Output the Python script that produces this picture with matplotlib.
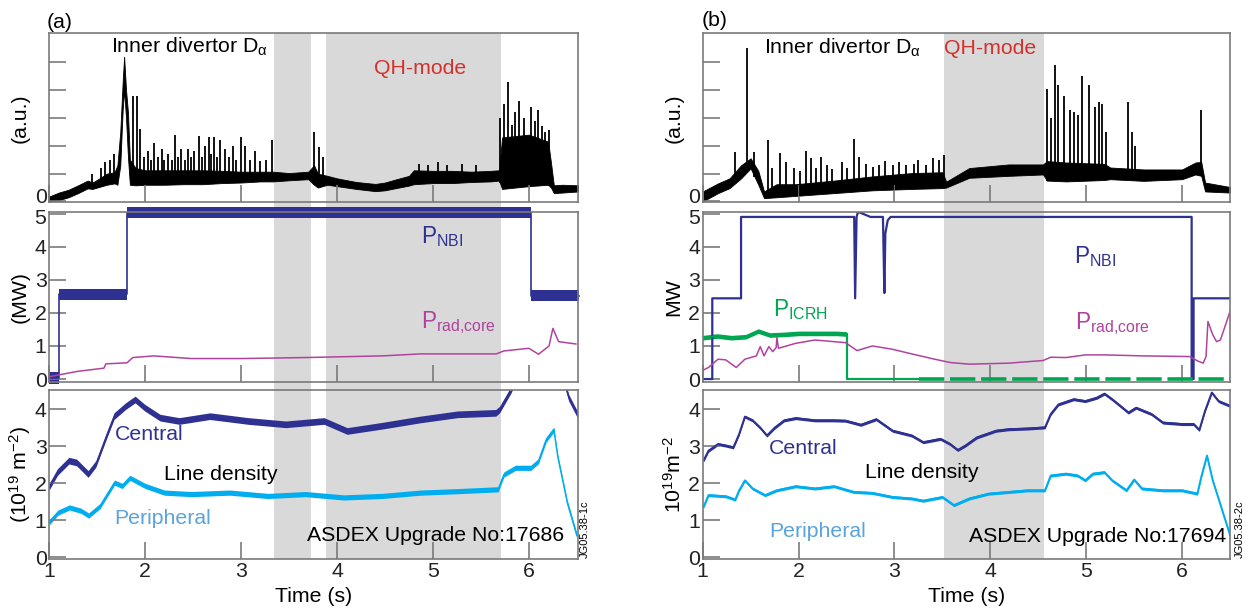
import numpy as np
import matplotlib.pyplot as plt
from matplotlib.patches import Rectangle
from matplotlib.transforms import blended_transform_factory, ScaledTranslation

plt.rcParams['font.family'] = ['Liberation Sans', 'DejaVu Sans']
plt.rcParams['mathtext.fontset'] = 'custom'
plt.rcParams['mathtext.rm'] = 'Liberation Sans'
plt.rcParams['mathtext.it'] = 'Liberation Sans:italic'
plt.rcParams['mathtext.bf'] = 'Liberation Sans:bold'

# ---------------- shot 17686 (a) ----------------
qh_a = [(3.34, 3.73), (3.885, 5.71)]

da_a_t = [1.0, 1.1, 1.2, 1.3, 1.4, 1.45, 1.5, 1.6, 1.68, 1.71, 1.74, 1.765, 1.78, 1.80, 1.82, 1.84,
          1.9, 2.0, 2.2, 2.4, 2.6, 2.8, 3.0, 3.2, 3.33, 3.5, 3.7, 3.76, 3.8, 3.9, 4.0, 4.2, 4.4,
          4.5, 4.6, 4.75, 4.8, 5.0, 5.2, 5.4, 5.6, 5.69, 5.72, 6.0, 6.2, 6.23, 6.26, 6.35, 6.52]
da_a_lo = [0.0, 0.05, 0.15, 0.3, 0.47, 0.45, 0.5, 0.6, 0.65, 0.6, 1.3, 3.3, 4.0, 3.0, 1.6, 0.6,
           0.58, 0.6, 0.6, 0.62, 0.62, 0.66, 0.68, 0.72, 0.72, 0.76, 0.8, 0.6, 0.5, 0.6, 0.55, 0.45, 0.37,
           0.4, 0.47, 0.57, 0.62, 0.66, 0.66, 0.7, 0.72, 0.75, 0.45, 0.55, 0.6, 0.5, 0.3, 0.32, 0.36]
da_a_hi = [0.18, 0.32, 0.42, 0.58, 0.75, 0.68, 0.78, 1.0, 1.05, 1.3, 2.5, 4.3, 5.2, 4.0, 3.2, 1.5,
           1.2, 1.12, 1.12, 1.12, 1.12, 1.1, 1.07, 1.07, 1.07, 1.02, 1.07, 1.3, 1.0, 0.92, 0.83, 0.7, 0.63,
           0.68, 0.78, 0.92, 1.12, 1.1, 1.1, 1.07, 1.1, 1.12, 2.3, 2.4, 2.15, 1.4, 0.58, 0.6, 0.58]
spk_a_t = [1.45, 1.54, 1.58, 1.63, 1.67, 1.87, 1.91, 1.95, 1.99, 2.03, 2.06, 2.09, 2.13, 2.17,
           2.2, 2.24, 2.28, 2.31, 2.34, 2.37, 2.41, 2.45, 2.48, 2.51, 2.56, 2.59, 2.62, 2.66,
           2.69, 2.72, 2.75, 2.78, 2.83, 2.87, 2.91, 2.95, 3.0, 3.04, 3.09, 3.14, 3.2, 3.26, 3.32,
           3.76, 3.81, 3.85, 4.85, 4.95, 5.05, 5.15, 5.3, 5.45,
           5.70, 5.74, 5.78, 5.82, 5.86, 5.90, 5.95, 6.02, 6.06, 6.10, 6.14, 6.17, 6.21]
spk_a_h = [1.0, 1.2, 1.4, 1.5, 1.7, 3.8, 3.8, 2.6, 1.6, 1.8, 1.5, 2.1, 1.6, 1.9,
           1.5, 1.7, 1.5, 2.4, 1.6, 1.9, 1.5, 1.9, 1.6, 1.8, 2.35, 1.6, 2.0, 2.3,
           1.7, 2.3, 1.6, 2.2, 1.9, 1.6, 2.0, 1.5, 2.3, 2.0, 1.5, 1.8, 1.45, 1.5, 2.2,
           2.5, 1.95, 1.6, 1.35, 1.3, 1.4, 1.3, 1.35, 1.3,
           3.0, 3.5, 4.3, 2.75, 3.2, 3.6, 3.0, 3.4, 2.9, 3.3, 2.7, 2.5, 2.57]

nbi_a_t = [1.0, 1.1, 1.1, 1.81, 1.81, 6.02, 6.02, 6.52]
nbi_a = [0.03, 0.03, 2.56, 2.56, 5.03, 5.03, 2.52, 2.52]

prad_a_t = [1.0, 1.09, 1.29, 1.57, 1.59, 1.81, 1.87, 2.09, 2.48, 3.0, 3.67, 4.47, 4.87, 5.66,
            5.74, 6.0, 6.1, 6.21, 6.25, 6.31, 6.49]
prad_a = [0.07, 0.12, 0.23, 0.33, 0.46, 0.49, 0.65, 0.7, 0.62, 0.62, 0.65, 0.7, 0.76, 0.76,
          0.85, 0.93, 0.75, 1.0, 1.53, 1.13, 1.06]

cen_a_t = [1.0, 1.09, 1.21, 1.29, 1.41, 1.49, 1.6, 1.68, 1.8, 1.9, 2.0, 2.16, 2.36, 2.68, 3.08,
           3.47, 3.87, 4.11, 4.47, 4.87, 5.26, 5.66, 5.7, 5.82, 5.86, 6.1, 6.37, 6.42, 6.52]
cen_a = [1.88, 2.29, 2.6, 2.55, 2.24, 2.51, 3.27, 3.8, 4.07, 4.25, 4.03, 3.76, 3.67, 3.8, 3.67,
         3.58, 3.67, 3.4, 3.54, 3.71, 3.85, 3.89, 3.98, 4.52, 4.75, np.nan, 4.75, 4.3, 3.8]

per_a_t = [1.0, 1.09, 1.21, 1.33, 1.41, 1.53, 1.68, 1.76, 1.84, 2.0, 2.2, 2.48, 2.88, 3.28,
           3.67, 4.07, 4.47, 4.87, 5.26, 5.68, 5.74, 5.86, 6.02, 6.1, 6.18, 6.26, 6.3, 6.4, 6.5]
per_a = [0.95, 1.21, 1.35, 1.26, 1.13, 1.39, 2.02, 1.93, 2.15, 1.93, 1.75, 1.71, 1.75, 1.66,
         1.71, 1.62, 1.66, 1.75, 1.79, 1.84, 2.24, 2.42, 2.42, 2.6, 3.18, 3.45, 2.73, 1.48, 0.59]

# ---------------- shot 17694 (b) ----------------
qh_b = [(3.52, 4.555)]

da_b_t = [1.0, 1.16, 1.28, 1.4, 1.5, 1.58, 1.64, 1.77, 1.97, 2.37, 2.77, 3.18, 3.5, 3.54, 3.78,
          4.19, 4.55, 4.59, 4.79, 5.19, 5.25, 5.6, 6.0, 6.14, 6.2, 6.24, 6.5]
da_b_lo = [0.0, 0.3, 0.48, 0.83, 1.19, 0.6, 0.12, 0.15, 0.2, 0.3, 0.4, 0.45, 0.48, 0.5, 0.85,
           0.92, 0.97, 0.75, 0.72, 0.77, 0.8, 0.74, 0.8, 0.97, 0.92, 0.36, 0.32]
da_b_hi = [0.36, 0.65, 0.83, 1.3, 1.55, 1.1, 0.36, 0.62, 0.62, 0.75, 0.9, 1.02, 1.05, 0.71, 1.2,
           1.33, 1.33, 1.45, 1.4, 1.35, 1.22, 1.15, 1.15, 1.4, 1.42, 0.68, 0.52]
spk_b_t = [1.34, 1.46, 1.54, 1.68, 1.72, 1.81, 1.87, 1.95, 2.02, 2.08, 2.13, 2.18, 2.23, 2.3,
           2.35, 2.45, 2.5, 2.58, 2.63, 2.7, 2.78, 2.84, 2.9, 2.98, 3.05, 3.12, 3.2, 3.25, 3.33,
           3.4, 3.46, 3.52, 4.59, 4.63, 4.67, 4.71, 4.77, 4.83, 4.87, 4.91,
           4.96, 5.03, 5.09, 5.13, 5.17, 5.21, 5.44, 5.48, 5.51, 6.2]
spk_b_h = [1.79, 5.5, 1.79, 2.2, 1.2, 1.73, 1.43, 1.2, 1.1, 1.8, 1.55, 1.2, 1.6, 1.3,
           1.15, 1.4, 1.2, 2.23, 1.6, 1.35, 1.25, 1.3, 1.45, 1.3, 1.4, 1.3, 1.35, 1.5, 1.3,
           1.55, 1.5, 1.67, 4.05, 3.0, 4.9, 4.2, 3.8, 3.3, 3.2, 3.1,
           4.5, 4.2, 3.4, 3.57, 3.5, 2.5, 3.57, 2.5, 2.0, 3.27]

nbi_b_t = [1.0, 1.1, 1.1, 1.4, 1.4, 2.58, 2.59, 2.605, 2.62, 2.65, 2.75, 2.88, 2.895, 2.905,
           2.93, 2.96, 6.1, 6.1, 6.12, 6.12, 6.5]
nbi_b = [0.0, 0.0, 2.44, 2.44, 4.9, 4.9, 2.44, 4.9, 5.05, 5.02, 4.9, 4.9, 2.6, 4.4,
         4.8, 4.9, 4.9, 0.0, 0.0, 2.44, 2.44]

icrh_b_t = [1.0, 1.15, 1.3, 1.45, 1.58, 1.7, 1.85, 2.0, 2.2, 2.4, 2.5]
icrh_b = [1.25, 1.3, 1.25, 1.28, 1.45, 1.33, 1.35, 1.38, 1.38, 1.38, 1.36]
icrh_drop_t = [2.5, 2.5, 3.26]
icrh_drop = [1.36, 0.0, 0.0]
icrh_off_t = [3.26, 6.5]
icrh_off = [0.0, 0.0]

prad_b_t = [1.0, 1.06, 1.16, 1.24, 1.35, 1.44, 1.56, 1.6, 1.64, 1.69, 1.73, 1.766, 1.774, 1.79,
            1.97, 2.17, 2.37, 2.49, 2.61, 2.77, 2.98, 3.18, 3.42, 3.58, 3.78, 4.19, 4.55, 4.63,
            4.79, 4.99, 5.19, 5.6, 6.08, 6.16, 6.22, 6.25, 6.27, 6.32, 6.36, 6.4, 6.5]
prad_b = [0.26, 0.35, 0.6, 0.58, 0.35, 0.6, 0.7, 0.98, 0.7, 0.98, 0.83, 0.95, 1.25, 0.93,
          1.08, 1.18, 1.13, 1.1, 0.86, 1.0, 0.9, 0.76, 0.6, 0.5, 0.45, 0.48, 0.56, 0.66,
          0.65, 0.73, 0.73, 0.7, 0.68, 0.55, 0.48, 0.68, 1.74, 1.34, 1.13, 1.18, 2.04]

cen_b_t = [1.01, 1.06, 1.16, 1.24, 1.32, 1.38, 1.44, 1.52, 1.6, 1.67, 1.75, 1.85, 1.97, 2.17,
           2.37, 2.49, 2.65, 2.81, 2.98, 3.18, 3.3, 3.48, 3.58, 3.66, 3.74, 3.86, 4.06, 4.19,
           4.39, 4.57, 4.63, 4.71, 4.87, 4.99, 5.11, 5.19, 5.27, 5.44, 5.52, 5.68, 5.8, 6.0,
           6.12, 6.18, 6.24, 6.31, 6.38, 6.5]
cen_b = [2.62, 2.88, 3.06, 3.02, 2.97, 3.33, 3.8, 3.7, 3.5, 3.29, 3.5, 3.7, 3.76, 3.7,
         3.7, 3.69, 3.58, 3.73, 3.42, 3.29, 3.11, 3.2, 3.06, 2.9, 3.02, 3.24, 3.42, 3.46,
         3.48, 3.51, 3.87, 4.13, 4.27, 4.22, 4.31, 4.42, 4.27, 3.91, 4.04, 3.87, 3.64, 3.6,
         3.6, 3.44, 3.96, 4.45, 4.22, 4.09]

per_b_t = [1.01, 1.06, 1.24, 1.34, 1.38, 1.44, 1.52, 1.65, 1.77, 1.97, 2.17, 2.37, 2.57, 2.77,
           2.98, 3.18, 3.3, 3.5, 3.62, 3.78, 3.98, 4.39, 4.57, 4.63, 4.79, 4.91, 4.99, 5.07,
           5.19, 5.27, 5.42, 5.5, 5.58, 5.8, 6.0, 6.16, 6.2, 6.26, 6.32, 6.5]
per_b = [1.37, 1.68, 1.65, 1.56, 1.81, 2.08, 1.86, 1.68, 1.81, 1.92, 1.86, 1.92, 1.77, 1.74,
         1.63, 1.59, 1.53, 1.63, 1.41, 1.59, 1.72, 1.81, 1.81, 2.21, 2.26, 2.21, 2.08, 2.26,
         2.3, 2.08, 1.81, 2.1, 1.86, 1.81, 1.81, 1.72, 2.17, 2.75, 2.08, 0.61]

# ---------------- styling ----------------
NAVY = '#2e3192'
MAG = '#b0439f'
CYAN = '#00aeef'
GREEN = '#00a651'
RED = '#d2312d'
SHADE = '#d9d9d9'
FRAME = '#7a7a7a'
FS = 15.3
PRAD_LABEL = r'P$_{\mathrm{rad{,}core}}$'

W, H = 1249, 615
fig = plt.figure(figsize=(W / 100, H / 100), dpi=100)


def box(x0, x1, y0, y1):
    return [x0 / W, 1 - y1 / H, (x1 - x0) / W, (y1 - y0) / H]


rows = [(33.3, 202.3), (212.3, 381.7), (390.0, 559.3)]
cols = [(49.3, 578.3, 6.515), (702.7, 1230.0, 6.5)]


def style(ax, xmax):
    ax.set_facecolor('none')
    for s in ax.spines.values():
        s.set_color(FRAME)
        s.set_linewidth(1.2)
    ax.set_xlim(1, xmax)
    ax.set_xticks([1, 2, 3, 4, 5, 6])
    ax.tick_params(direction='in', length=12, width=1.2, color=FRAME, labelsize=FS,
                   pad=2, top=False, right=False, labelcolor='#222222')


axes = []
for c, (x0, x1, xmax) in enumerate(cols):
    col = []
    for r, (y0, y1) in enumerate(rows):
        ax = fig.add_axes(box(x0, x1, y0, y1))
        style(ax, xmax)
        if r < 2:
            ax.set_xticklabels([])
        col.append(ax)
    axes.append(col)

# shaded QH-mode intervals spanning all three panels of a column
for col, spans in zip(axes, [qh_a, qh_b]):
    tr = blended_transform_factory(col[2].transData, fig.transFigure)
    ybot = 1 - rows[2][1] / H
    ytop = 1 - rows[0][0] / H
    for a, b in spans:
        fig.add_artist(Rectangle((a, ybot), b - a, ytop - ybot, transform=tr,
                                 facecolor=SHADE, edgecolor='none', zorder=-1))


def dalpha(ax, t, lo, hi, st, sh):
    ax.fill_between(t, lo, hi, color='black', lw=0.6, edgecolor='black')
    base = np.interp(st, t, lo)
    ax.vlines(st, base, sh, color='black', lw=1.3)
    ax.set_ylim(-0.03, 6.04)
    ax.set_yticks([0, 1, 2, 3, 4, 5])
    ax.set_yticklabels(['0', '', '', '', '', ''])
    ax.set_ylabel('(a.u.)', fontsize=FS)


def band(ax, t, y, half, color, lw=1.0, clip=True):
    t = np.asarray(t, float)
    y = np.asarray(y, float)
    ax.fill_between(t, y - half, y + half, color=color, lw=0, clip_on=clip)
    ax.plot(t, y, color=color, lw=lw, clip_on=clip)


# ---------------- column (a) ----------------
ax = axes[0][0]
dalpha(ax, da_a_t, da_a_lo, da_a_hi, spk_a_t, spk_a_h)
ax.text(1.64, 5.56, r'Inner divertor D$_{\mathrm{\alpha}}$', fontsize=FS, va='center')
ax.text(4.38, 4.78, 'QH-mode', fontsize=FS, va='center', color=RED)

ax = axes[0][1]
band(ax, nbi_a_t, nbi_a, 0.17, NAVY, lw=1.2, clip=False)
ax.plot(prad_a_t, prad_a, color=MAG, lw=1.1)
ax.set_ylim(-0.08, 5.04)
ax.set_yticks([0, 1, 2, 3, 4, 5])
ax.set_ylabel('(MW)', fontsize=FS)
ax.text(4.87, 4.3, r'P$_{\mathrm{NBI}}$', fontsize=FS + 1, color=NAVY, va='center')
ax.text(4.87, 1.7, PRAD_LABEL, fontsize=FS + 1, color=MAG, va='center')

ax = axes[0][2]
band(ax, cen_a_t, cen_a, 0.09, NAVY)
band(ax, per_a_t, per_a, 0.07, CYAN)
ax.set_ylim(-0.05, 4.52)
ax.set_yticks([0, 1, 2, 3, 4])
ax.set_ylabel('(10$^{19}$ m$^{-2}$)', fontsize=FS)
ax.text(1.68, 3.31, 'Central', fontsize=FS, color=NAVY, va='center')
ax.text(2.2, 2.24, 'Line density', fontsize=FS, color='black', va='center')
ax.text(1.68, 1.04, 'Peripheral', fontsize=FS, color='#5aa3dc', va='center')
ax.text(6.37, 0.59, 'ASDEX Upgrade No:17686', fontsize=FS, color='black', va='center', ha='right')
ax.set_xlabel('Time (s)', fontsize=FS)

# ---------------- column (b) ----------------
ax = axes[1][0]
dalpha(ax, da_b_t, da_b_lo, da_b_hi, spk_b_t, spk_b_h)
ax.text(1.64, 5.5, r'Inner divertor D$_{\mathrm{\alpha}}$', fontsize=FS, va='center')
ax.text(3.52, 5.5, 'QH-mode', fontsize=FS, va='center', color=RED)

ax = axes[1][1]
ax.plot(nbi_b_t, nbi_b, color=NAVY, lw=1.6)
band(ax, icrh_b_t, icrh_b, 0.07, GREEN, lw=1.2)
ax.plot(icrh_drop_t, icrh_drop, color=GREEN, lw=1.6)
ax.plot(icrh_off_t, icrh_off, color=GREEN, lw=2.6, ls=(0, (7, 1.6)))
ax.plot(prad_b_t, prad_b, color=MAG, lw=1.1)
ax.set_ylim(-0.08, 5.04)
ax.set_yticks([0, 1, 2, 3, 4, 5])
ax.set_ylabel('MW', fontsize=FS)
ax.text(4.87, 3.7, r'P$_{\mathrm{NBI}}$', fontsize=FS + 1, color=NAVY, va='center')
ax.text(1.73, 2.1, r'P$_{\mathrm{ICRH}}$', fontsize=FS + 1, color=GREEN, va='center')
ax.text(4.88, 1.68, PRAD_LABEL, fontsize=FS + 1, color=MAG, va='center')

ax = axes[1][2]
band(ax, cen_b_t, cen_b, 0.04, NAVY, lw=1.4)
band(ax, per_b_t, per_b, 0.04, CYAN, lw=1.4)
ax.set_ylim(-0.05, 4.52)
ax.set_yticks([0, 1, 2, 3, 4])
ax.set_ylabel('10$^{19}$m$^{-2}$', fontsize=FS)
ax.text(1.69, 2.93, 'Central', fontsize=FS, color=NAVY, va='center')
ax.text(2.69, 2.28, 'Line density', fontsize=FS, color='black', va='center')
ax.text(1.69, 0.7, 'Peripheral', fontsize=FS, color='#5aa3dc', va='center')
ax.text(6.46, 0.56, 'ASDEX Upgrade No:17694', fontsize=FS, color='black', va='center', ha='right')
ax.set_xlabel('Time (s)', fontsize=FS)

# label placement
for c, xl in enumerate([-0.056, -0.054]):
    for ax in axes[c]:
        ax.yaxis.label.set_va('center')
        ax.yaxis.set_label_coords(xl, 0.5)
    axes[c][2].xaxis.set_label_coords(0.5, -0.165)
    # the stacked "0" and "5" sit very close, as in the original; nudge them apart
    fig.canvas.draw()
    up = ScaledTranslation(0, 4 / 72, fig.dpi_scale_trans)
    down = ScaledTranslation(0, -2 / 72, fig.dpi_scale_trans)
    lab0 = axes[c][0].get_yticklabels()[0]
    lab0.set_transform(lab0.get_transform() + up)
    lab5 = axes[c][1].get_yticklabels()[-1]
    lab5.set_transform(lab5.get_transform() + down)

fig.text(47 / W, 1 - 23 / H, '(a)', fontsize=FS, va='center', ha='left')
fig.text(702 / W, 1 - 20 / H, '(b)', fontsize=FS, va='center', ha='left')
fig.text(585 / W, 1 - 529 / H, 'JG05.38-1c', fontsize=8, rotation=90, va='center', ha='center')
fig.text(1240 / W, 1 - 529 / H, 'JG05.38-2c', fontsize=8, rotation=90, va='center', ha='center')

fig.savefig('out.png', dpi=100)
